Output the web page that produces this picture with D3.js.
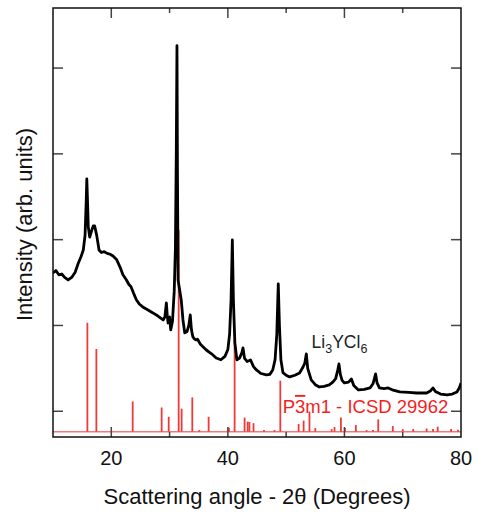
<!DOCTYPE html>
<html>
<head>
<meta charset="utf-8">
<script src="https://cdn.jsdelivr.net/npm/d3@7"></script>
<style>
  body { margin: 0; background: #fff; }
  text { font-family: "Liberation Sans", Arial, sans-serif; }
</style>
</head>
<body>
<div id="chart"></div>
<script>
// measured pattern, Li3YCl6 (2theta in degrees, counts in arb. units)
var angle = [10.0, 10.5, 11.0, 11.5, 12.0, 12.6, 13.2, 13.8, 14.3, 14.8, 15.2, 15.5, 15.7, 15.8, 15.9, 16.05, 16.3, 16.6, 16.9, 17.15,
  17.5, 17.9, 18.3, 18.8, 19.3, 19.8, 20.3, 20.9, 21.5, 22.0, 22.6, 23.0, 23.4, 23.8, 24.3, 24.8, 25.4, 26.3, 27.15, 28.0,
  28.9, 29.2, 29.45, 29.6, 29.75, 30.0, 30.2, 30.5, 30.8, 31.0, 31.15, 31.27, 31.35, 31.46, 32.0, 32.3, 32.6, 33.0, 33.3, 33.55,
  33.75, 34.0, 34.3, 34.6, 34.8, 35.3, 36.3, 37.2, 38.0, 38.8, 39.5, 40.0, 40.3, 40.55, 40.77, 40.95, 41.2, 41.55, 42.0, 42.4,
  42.6, 42.85, 43.3, 43.9, 44.4, 44.9, 45.7, 46.6, 47.2, 47.7, 48.1, 48.4, 48.65, 48.85, 49.1, 49.45, 50.0, 50.6, 51.5, 52.3,
  52.9, 53.2, 53.46, 53.7, 54.3, 55.0, 55.7, 56.5, 57.4, 58.0, 58.5, 58.85, 59.06, 59.3, 59.6, 60.0, 60.7, 61.2, 61.6, 62.4,
  63.4, 64.4, 64.9, 65.35, 65.6, 66.0, 66.8, 67.5, 68.2, 69.5, 71.0, 72.4, 74.1, 74.8, 75.2, 75.6, 76.5, 77.6, 78.5, 79.3,
  79.7, 80.0];
var counts = [1612, 1640, 1590, 1600, 1560, 1530, 1560, 1620, 1720, 1800, 1880, 2050, 2450, 2707, 2500, 2150, 2031, 2100, 2160, 2160,
  2050, 1880, 1850, 1860, 1840, 1830, 1810, 1770, 1680, 1590, 1530, 1480, 1449, 1380, 1300, 1250, 1216, 1180, 1146, 1110,
  1064, 1100, 1262, 1120, 1029, 1099, 948, 1050, 1400, 1900, 3000, 4261, 2800, 1530, 1297, 1064, 913, 930, 1000, 1122,
  950, 866, 840, 831, 840, 780, 714, 670, 621, 600, 640, 720, 900, 1300, 1997, 1300, 800, 598, 620, 680,
  738, 620, 580, 598, 520, 481, 440, 423, 430, 481, 600, 900, 1484, 1000, 600, 450, 420, 400, 420, 446,
  516, 560, 668, 500, 365, 310, 283, 290, 307, 340, 380, 480, 551, 430, 360, 330, 340, 376, 300, 248,
  255, 272, 320, 435, 330, 272, 265, 272, 250, 225, 220, 213, 213, 240, 272, 230, 200, 190, 200, 225,
  270, 330];

// reference pattern P-3m1, ICSD 29962 (relative intensity, %)
var refAngle = [15.9, 17.44, 23.67, 28.64, 29.85, 31.56, 32.07, 33.9, 35.1, 36.7, 40.2, 41.16, 42.87, 43.4, 43.7, 44.4, 46.2, 48.0, 49.0, 52.14,
  53.0, 54.0, 55.0, 57.8, 58.3, 59.4, 60.1, 61.96, 63.8, 64.9, 65.8, 68.3, 70.0, 71.8, 74.1, 75.2, 76.0, 78.3, 79.5];
var refInt = [54, 41, 15, 12, 7.4, 100, 11.4, 17, 0.8, 7.4, 2, 45.5, 7, 5, 4.8, 4.2, 0.8, 0.8, 25.3, 3.8,
  5.5, 10, 1.8, 1.3, 2.3, 7, 1.8, 3.3, 0.8, 0.8, 6.1, 2.8, 1.3, 1.3, 1.6, 1.3, 2.5, 1.3, 1];

var xTicks = [20, 30, 40, 50, 60, 70, 80];
var xLabels = [20, 40, 60, 80];
var yTicks = [0, 1000, 2000, 3000, 4000];

var width = 478, height = 514;
var margin = { top: 8, right: 17, bottom: 77, left: 53 };
var w = width - margin.left - margin.right;
var h = height - margin.top - margin.bottom;

var svg = d3.select("#chart").append("svg")
  .attr("width", width)
  .attr("height", height);

var g = svg.append("g")
  .attr("transform", "translate(" + margin.left + "," + margin.top + ")");

var x = d3.scaleLinear().domain([10, 80]).range([0, w]);
var y = d3.scaleLinear().domain([-300, 4700]).range([h, 0]);
// reference sticks sit on their own baseline near the bottom
var yRef = d3.scaleLinear().domain([0, 100]).range([h - 5.3, h - 207]);

g.append("clipPath").attr("id", "clip")
  .append("rect").attr("width", w).attr("height", h);

var red = "#ef3a3a";

// reference pattern: baseline + sticks
g.append("path")
  .datum([10, 80])
  .attr("clip-path", "url(#clip)")
  .attr("d", d3.line().x(d => x(d)).y(() => yRef(0)))
  .attr("stroke", "#f27a7a")
  .attr("stroke-width", 1.5)
  .attr("fill", "none");

g.append("g").attr("clip-path", "url(#clip)")
  .selectAll("line")
  .data(refAngle.map((a, i) => ({ a: a, v: refInt[i] })))
  .enter().append("line")
  .attr("x1", d => x(d.a)).attr("x2", d => x(d.a))
  .attr("y1", yRef(0)).attr("y2", d => yRef(d.v))
  .attr("stroke", red)
  .attr("stroke-width", 1.8);

// measured pattern
var pts = angle.map((a, i) => [a, counts[i]]);
g.append("path")
  .datum(pts)
  .attr("clip-path", "url(#clip)")
  .attr("d", d3.line().x(d => x(d[0])).y(d => y(d[1])))
  .attr("fill", "none")
  .attr("stroke", "#000")
  .attr("stroke-width", 2.8)
  .attr("stroke-linejoin", "round");

// ticks, drawn inward on all four sides
var tickColor = "#444";
function xTickLen(t) { return xLabels.indexOf(t) >= 0 ? 10 : 5; }

g.append("g").selectAll("line")
  .data(xTicks.filter(t => t < 80))
  .enter().append("line")
  .attr("x1", d => x(d)).attr("x2", d => x(d))
  .attr("y1", h).attr("y2", d => h - xTickLen(d))
  .attr("stroke", tickColor).attr("stroke-width", 1.5);

g.append("g").selectAll("line")
  .data(xTicks.filter(t => t < 80))
  .enter().append("line")
  .attr("x1", d => x(d)).attr("x2", d => x(d))
  .attr("y1", 0).attr("y2", d => xTickLen(d))
  .attr("stroke", tickColor).attr("stroke-width", 1.5);

g.append("g").selectAll("line")
  .data(yTicks)
  .enter().append("line")
  .attr("x1", 0).attr("x2", 10)
  .attr("y1", d => y(d)).attr("y2", d => y(d))
  .attr("stroke", tickColor).attr("stroke-width", 1.5);

g.append("g").selectAll("line")
  .data(yTicks)
  .enter().append("line")
  .attr("x1", w).attr("x2", w - 10)
  .attr("y1", d => y(d)).attr("y2", d => y(d))
  .attr("stroke", tickColor).attr("stroke-width", 1.5);

// frame
g.append("rect")
  .attr("width", w).attr("height", h)
  .attr("fill", "none")
  .attr("stroke", "#111")
  .attr("stroke-width", 1.5);

// x tick labels
g.append("g").selectAll("text")
  .data(xLabels)
  .enter().append("text")
  .attr("x", d => x(d))
  .attr("y", h + 28)
  .attr("text-anchor", "middle")
  .style("font-size", "20px")
  .attr("fill", "#111")
  .text(d => d);

// axis titles
g.append("text")
  .attr("x", w / 2 + 0)
  .attr("y", h + 67)
  .attr("text-anchor", "middle")
  .style("font-size", "22px")
  .attr("fill", "#111")
  .text("Scattering angle - 2\u03B8 (Degrees)");

g.append("text")
  .attr("transform", "translate(" + (-21) + "," + (h / 2 + 2) + ") rotate(-90)")
  .attr("text-anchor", "middle")
  .style("font-size", "22px")
  .attr("fill", "#111")
  .text("Intensity (arb. units)");

// sample label
var lab = g.append("text")
  .attr("x", x(54.37))
  .attr("y", y(741))
  .style("font-size", "17.5px")
  .attr("fill", "#222");
lab.append("tspan").text("Li");
lab.append("tspan").attr("dy", 5).style("font-size", "12.5px").text("3");
lab.append("tspan").attr("dy", -5).text("YCl");
lab.append("tspan").attr("dy", 5).style("font-size", "12.5px").text("6");

// reference label
var ref = g.append("text")
  .attr("x", x(49.4))
  .attr("y", yRef(9.3))
  .style("font-size", "18.5px")
  .attr("fill", "#f41e1e");
ref.append("tspan").text("P");
ref.append("tspan").style("text-decoration", "overline").text("3");
ref.append("tspan").text("m1 - ICSD 29962");
</script>
</body>
</html>
